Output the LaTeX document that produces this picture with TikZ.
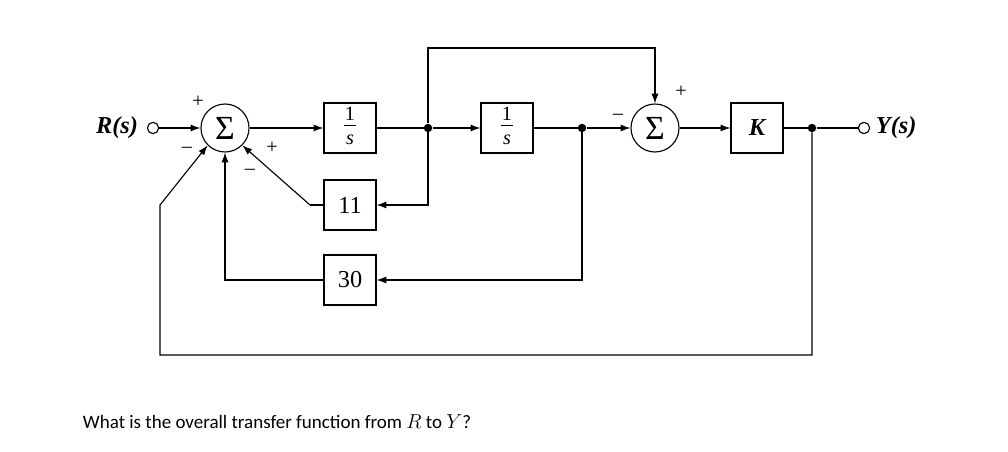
\documentclass[tikz,border=0pt]{standalone}
\usepackage{fontspec}
\setmainfont{Liberation Serif}
\setsansfont{Carlito}
\usetikzlibrary{arrows.meta}
\newcommand{\onesfrac}{\setlength{\tabcolsep}{1pt}\renewcommand{\arraystretch}{0.85}\begin{tabular}{c}1\\[-1pt]\hline\rule{0pt}{13pt}\itshape s\end{tabular}}
\begin{document}
\begin{tikzpicture}[x=0.025cm,y=-0.025cm,
  blk/.style={draw,thick,minimum width=1.3cm,minimum height=1.25cm,inner sep=0pt,font=\LARGE},
  sumn/.style={draw,thick,circle,minimum size=1.2cm,inner sep=0pt,font=\fontsize{24}{26}\selectfont},
  ln/.style={thick},
  ar/.style={thick,-{Latex[length=7pt,width=5pt]}},
  dotn/.style={circle,fill,inner sep=0pt,minimum size=6pt},
  term/.style={circle,draw,thick,inner sep=0pt,minimum size=8pt},
  sg/.style={font=\Large}]
\useasboundingbox (0,0) rectangle (1008,452);
\node[font=\LARGE\itshape\bfseries,anchor=east] (R) at (143,128) {R(s)};
\node[term] (rt) at (153,128) {};
\node[sumn] (s1) at (225,128) {Σ};
\node[blk,font=\Large] (g1) at (350,128) {\onesfrac};
\node[dotn] (d1) at (428,128) {};
\node[blk,font=\Large] (g2) at (507,128) {\onesfrac};
\node[dotn] (d2) at (582,128) {};
\node[sumn] (s2) at (655,128) {Σ};
\node[blk,font=\LARGE\itshape\bfseries] (k) at (757,128) {K};
\node[dotn] (d3) at (812,128) {};
\node[term] (yt) at (864,128) {};
\node[font=\LARGE\itshape\bfseries,anchor=west] (Y) at (871,128) {Y(s)};
\node[blk] (b11) at (350,205) {11};
\node[blk] (b30) at (350,280) {30};
\coordinate (c11) at (310,205);
\coordinate (ca) at (428,48);
\coordinate (cb) at (655,48);
\coordinate (cc) at (812,355);
\coordinate (cd) at (160,355);
\coordinate (ce) at (160,205);
\draw[ar] (rt) -- (s1);
\draw[ar] (s1) -- (g1);
\draw[ln] (g1) -- (d1);
\draw[ar] (d1) -- (g2);
\draw[ln] (g2) -- (d2);
\draw[ar] (d2) -- (s2);
\draw[ar] (s2) -- (k);
\draw[ln] (k) -- (d3);
\draw[ln] (d3) -- (yt);
\draw[ar] (d1) -- (ca) -- (cb) -- (s2);
\draw[ar] (d1) |- (b11);
\draw[ln] (b11) -- (c11);
\draw[ar] (c11) -- (s1.-45);
\draw[ar] (d2) |- (b30);
\draw[ar] (b30) -| (s1);
\draw[ar] (d3) -- (cc) -- (cd) -- (ce) -- (s1.-135);
\node[sg] at (198,102) {+};
\node[sg] at (187,150) {--};
\node[sg] at (250,172) {--};
\node[sg] at (272,148) {+};
\node[sg] at (618,117) {--};
\node[sg] at (681,92) {+};
\node[font=\sffamily\fontsize{13.5}{16}\selectfont,anchor=west] (q) at (78,422) {What is the overall transfer function from $R$ to $Y$?};
\end{tikzpicture}
\end{document}
